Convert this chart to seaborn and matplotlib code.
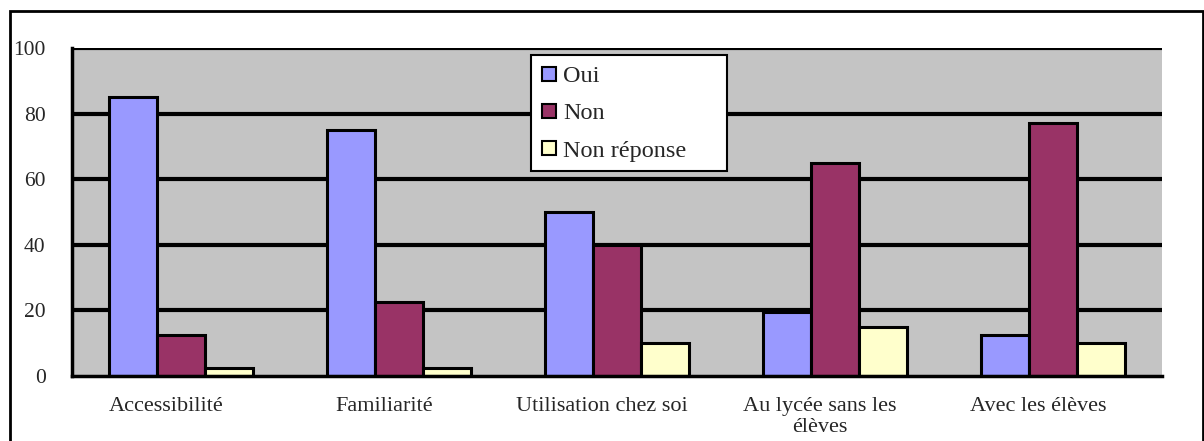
import matplotlib
matplotlib.use("Agg")
import matplotlib.pyplot as plt
import matplotlib.transforms as mtransforms
import seaborn as sns
import pandas as pd
from matplotlib.patches import Patch, Rectangle

categories = ["Accessibilité", "Familiarité", "Utilisation chez soi",
              "Au lycée sans les\nélèves", "Avec les élèves"]
series = ["Oui", "Non", "Non réponse"]
oui = [85, 75, 50, 19.5, 12.5]
non = [12.5, 22.5, 40, 65, 77]
non_reponse = [2.5, 2.5, 10, 15, 10]
colors = ["#9999ff", "#993366", "#ffffcc"]
yticks = [0, 20, 40, 60, 80, 100]

rows = []
for i, c in enumerate(categories):
    rows.append((c, "Oui", oui[i]))
    rows.append((c, "Non", non[i]))
    rows.append((c, "Non réponse", non_reponse[i]))
df = pd.DataFrame(rows, columns=["cat", "serie", "val"])

sns.set_style("white")
plt.rcParams["font.family"] = ["Liberation Serif", "DejaVu Serif"]

fig = plt.figure(figsize=(12.04, 4.41), dpi=100)
ax = fig.add_axes([72/1204, 1-376/441, (1162-72)/1204, (376-48)/441])

sns.barplot(data=df, x="cat", y="val", hue="serie", order=categories,
            hue_order=series, palette=colors, width=0.665, dodge=True,
            edgecolor="black", linewidth=2.2, saturation=1, ax=ax, legend=False,
            zorder=3)

ax.set_facecolor("#c4c4c4")
ax.set_ylim(0, 100)
ax.set_xlim(-0.5, len(categories) - 0.5)
ax.set_yticks(yticks)
ax.set_yticklabels([str(v) for v in yticks], fontsize=15.5)
for v in yticks[1:]:
    ax.axhline(v, color="black", linewidth=3, zorder=1)
ax.set_xlabel("")
ax.set_ylabel("")
ax.tick_params(axis="x", which="major", length=0, pad=15, labelsize=16)
ax.set_xticks(list(range(len(categories))))
ax.set_xticks([i - 0.5 for i in range(len(categories) + 1)], minor=True)
ax.tick_params(axis="x", which="minor", length=6, width=2.5, direction="out", color="black")
ax.tick_params(axis="y", length=6, width=2.5, direction="out", color="black", pad=13)
shift = mtransforms.ScaledTranslation(-15/100, 0, fig.dpi_scale_trans)
for lab in ax.get_xticklabels():
    lab.set_linespacing(1.15)
    lab.set_verticalalignment("top")
    lab.set_transform(lab.get_transform() + shift)

for s in ["top", "right"]:
    ax.spines[s].set_visible(False)
for s in ["left", "bottom"]:
    ax.spines[s].set_color("black")
    ax.spines[s].set_linewidth(2.5)
    ax.spines[s].set_zorder(4)

# legend box
fig.add_artist(Rectangle((531/1204, 1-171/441), (727-531)/1204, (171-55)/441,
                         transform=fig.transFigure, facecolor="white",
                         edgecolor="black", linewidth=1.5, zorder=5))
handles = [Patch(facecolor=c, edgecolor="black", linewidth=1.5) for c in colors]
leg = fig.legend(handles, series, loc="upper left",
                 bbox_to_anchor=(531/1204, 1-55/441), fontsize=17.5,
                 handlelength=0.55, handleheight=0.55, handletextpad=0.3,
                 labelspacing=0.66, borderpad=0.47, frameon=False,
                 borderaxespad=0)
leg.set_zorder(6)

frame = Rectangle((10/1204, -0.2), (1203-10)/1204, 1-11/441+0.2,
                  transform=fig.transFigure, fill=False, edgecolor="black",
                  linewidth=2, clip_on=False)
fig.add_artist(frame)

fig.savefig("out.png", dpi=100, facecolor="white")
